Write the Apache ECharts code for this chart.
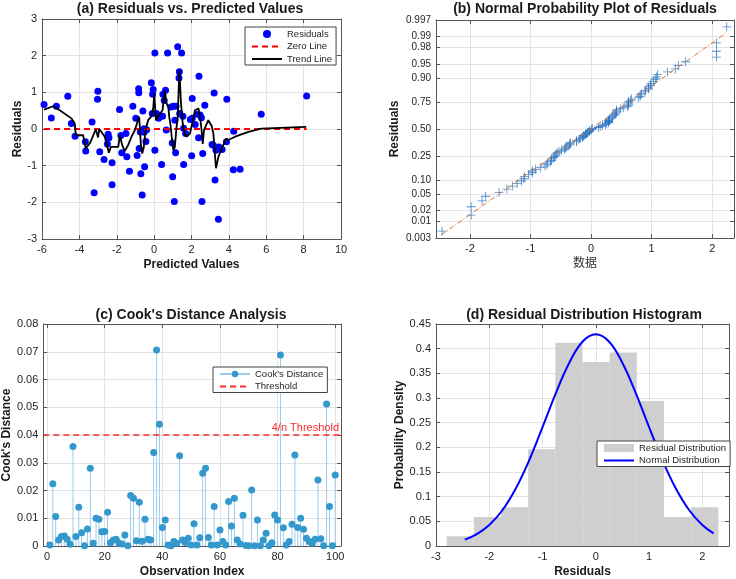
<!DOCTYPE html>
<html>
<head>
<meta charset="utf-8">
<title>Residual diagnostics</title>
<script src="https://cdn.jsdelivr.net/npm/echarts@6/dist/echarts.min.js"></script>
<style>
  html, body { margin: 0; padding: 0; background: #fff; }
  #main { width: 736px; height: 579px; }
</style>
</head>
<body>
<div id="main"></div>
<script>
// ---- (a) residuals vs predicted values
const predicted = [-5.89, -5.50, -5.23, -4.62, -4.43, -4.23, -3.68, -3.66, -3.32, -3.21,
  -3.03, -3.01, -2.91, -2.68, -2.50, -2.46, -2.42, -2.25, -2.25, -1.85,
  -1.78, -1.73, -1.51, -1.46, -1.32, -1.14, -0.98, -0.91, -0.83, -0.82,
  -0.80, -0.74, -0.71, -0.64, -0.60, -0.55, -0.51, -0.44, -0.15, -0.10,
  -0.08, -0.05, 0.04, 0.04, 0.13, 0.40, 0.45, 0.47, 0.54, 0.61,
  0.65, 0.72, 0.90, 0.97, 0.99, 1.08, 1.11, 1.15, 1.17, 1.26,
  1.35, 1.33, 1.37, 1.47, 1.54, 1.58, 1.69, 2.01, 2.04, 2.04,
  2.40, 2.38, 2.46, 2.56, 2.60, 2.71, 3.21, 3.17, 3.26, 3.31,
  3.44, 3.47, 3.64, 3.89, 3.87, 4.26, 4.24, 4.60, 5.73, 8.16,
  1.03, 1.94, 2.33, 2.53, 3.10, 0.24, -0.53, 1.58, -0.40, 2.20]
const residuals = [0.67, 0.30, 0.62, 0.89, 0.15, -0.20, -0.35, -0.60, 0.19, -1.74,
  0.81, 1.03, -0.62, -0.83, -0.41, -0.14, -0.24, -0.92, -1.52, 0.53,
  -0.18, -0.65, -0.12, -0.76, -1.15, 0.62, 0.29, -0.72, 1.10, 0.99,
  -0.53, -0.08, -1.22, -1.80, 0.49, 0.01, -1.03, -0.34, 1.26, 0.42,
  0.95, 1.08, 2.07, -0.58, 0.42, -0.97, 0.35, 0.95, 0.78, 1.06,
  -0.03, 2.07, 0.60, -0.38, -1.30, -1.98, 0.24, -0.65, 0.62, 2.24,
  1.56, 1.39, 0.42, 2.07, 0.35, -0.97, -0.12, -0.73, 0.83, 0.29,
  1.44, -0.24, 0.38, -1.98, -0.67, 0.65, 0.98, -0.44, -1.39, -0.58,
  -2.46, -0.49, -0.56, 0.81, -0.35, -0.06, -1.11, -1.10, 0.40, 0.90,
  0.62, 0.26, 0.40, 0.31, -0.42, 0.29, -0.09, 0.02, -0.02, 0.12]
const trendX = [-5.89, -5.41, -5.05, -4.43, -4.25, -4.19, -3.80, -3.66, -3.44, -3.12,
  -3.00, -2.94, -2.82, -2.64, -2.42, -2.32, -1.92, -1.83, -1.71, -1.57,
  -1.39, -1.21, -1.03, -0.89, -0.80, -0.71, -0.64, -0.55, -0.46, -0.32,
  -0.14, -0.05, 0.01, 0.04, 0.10, 0.26, 0.45, 0.52, 0.58, 0.63,
  0.76, 0.81, 0.88, 0.94, 1.03, 1.11, 1.20, 1.26, 1.35, 1.38,
  1.44, 1.53, 1.62, 1.74, 1.92, 2.19, 2.37, 2.46, 2.54, 2.60,
  2.67, 2.90, 3.08, 3.17, 3.31, 3.44, 3.62, 3.85, 3.97, 4.33,
  5.05, 5.73, 8.14]
const trendY = [0.53, 0.62, 0.51, 0.29, 0.15, -0.17, -0.17, -0.53, -0.39, -0.01,
  -0.23, -0.01, -0.08, -0.21, -0.65, -0.49, -0.49, -0.17, -0.44, -0.60,
  -0.44, -0.21, -0.03, 0.20, 0.33, -0.41, -0.67, -0.49, -0.03, 0.24,
  0.35, 0.56, 0.97, 0.69, 0.24, 0.38, 0.51, 0.83, 1.06, 0.74,
  0.60, 0.33, 0.10, -0.21, -0.58, -0.49, 0.06, 0.29, 1.60, 1.33,
  0.69, 0.15, -0.12, -0.21, -0.12, 0.51, 0.56, 0.33, -0.03, -0.41,
  -0.03, 0.24, 0.08, -0.12, -1.07, -0.76, -0.53, -0.26, -0.30, -0.21,
  -0.08, 0.01, 0.06]
const zeroLineX = [-5.89, 8.16]

// ---- (b) normal probability plot
const probTicks = [0.003, 0.01, 0.02, 0.05, 0.10, 0.25, 0.50, 0.75, 0.90, 0.95, 0.98, 0.99, 0.997]
const probTickLabels = ['0.003', '0.01', '0.02', '0.05', '0.10', '0.25', '0.50', '0.75', '0.90', '0.95', '0.98', '0.99', '0.997']
const refLineX = [-2.47, 2.22]
const refLineP = [0.0038, 0.992]

// ---- (c) cook's distance
const cooksD = [0.0004, 0.0224, 0.0106, 0.0022, 0.0034, 0.0036, 0.0024, 0.0006, 0.0359, 0.0034,
  0.0140, 0.0048, 0.0001, 0.0061, 0.0280, 0.0010, 0.0100, 0.0096, 0.0051, 0.0052,
  0.0122, 0.0012, 0.0022, 0.0024, 0.0010, 0.0007, 0.0040, 0.0001, 0.0182, 0.0172,
  0.0019, 0.0158, 0.0017, 0.0096, 0.0024, 0.0022, 0.0337, 0.0706, 0.0439, 0.0067,
  0.0094, 0.0004, 0.0001, 0.0016, 0.0010, 0.0325, 0.0022, 0.0013, 0.0028, 0.0004,
  0.0080, 0.0004, 0.0030, 0.0262, 0.0280, 0.0031, 0.0004, 0.0142, 0.0004, 0.0058,
  0.0016, 0.0004, 0.0160, 0.0072, 0.0172, 0.0022, 0.0007, 0.0111, 0.0002, 0.0001,
  0.0202, 0.0001, 0.0094, 0.0001, 0.0022, 0.0046, 0.0001, 0.0012, 0.0112, 0.0094,
  0.0688, 0.0066, 0.0004, 0.0016, 0.0078, 0.0328, 0.0067, 0.0100, 0.0060, 0.0028,
  0.0016, 0.0010, 0.0024, 0.0238, 0.0026, 0.0001, 0.0512, 0.0142, 0.0001, 0.0256]
const threshold = 0.04

// ---- (d) histogram + fitted normal
const binEdges = [-2.80, -2.29, -1.78, -1.27, -0.76, -0.25, 0.26, 0.77, 1.28, 1.79, 2.30]
const binDensity = [0.0196, 0.0588, 0.0784, 0.196, 0.412, 0.373, 0.392, 0.294, 0.0588, 0.0784]
const pdfX = [-2.46, -2.25, -2.0, -1.75, -1.5, -1.25, -1.0, -0.75, -0.5, -0.25, 0,
  0.25, 0.5, 0.75, 1.0, 1.25, 1.5, 1.75, 2.0, 2.21]
const pdfY = [0.013, 0.023, 0.0425, 0.073, 0.117, 0.174, 0.241, 0.310, 0.371, 0.414, 0.429,
  0.414, 0.371, 0.310, 0.241, 0.174, 0.117, 0.073, 0.0425, 0.0255]

// inverse normal cdf (Acklam), used as the probability axis scale
function norminv(p) {
  const a = [-39.69683028665376, 220.9460984245205, -275.9285104469687, 138.3577518672690, -30.66479806614716, 2.506628277459239]
  const b = [-54.47609879822406, 161.5858368580409, -155.6989798598866, 66.80131188771972, -13.28068155288572]
  const c = [-0.007784894002430293, -0.3223964580411365, -2.400758277161838, -2.549732539343734, 4.374664141464968, 2.938163982698783]
  const d = [0.007784695709041462, 0.3224671290700398, 2.445134137142996, 3.754408661907416]
  const plow = 0.02425
  let q, r
  if (p < plow) {
    q = Math.sqrt(-2 * Math.log(p))
    return (((((c[0] * q + c[1]) * q + c[2]) * q + c[3]) * q + c[4]) * q + c[5]) / ((((d[0] * q + d[1]) * q + d[2]) * q + d[3]) * q + 1)
  }
  if (p > 1 - plow) {
    q = Math.sqrt(-2 * Math.log(1 - p))
    return -(((((c[0] * q + c[1]) * q + c[2]) * q + c[3]) * q + c[4]) * q + c[5]) / ((((d[0] * q + d[1]) * q + d[2]) * q + d[3]) * q + 1)
  }
  q = p - 0.5
  r = q * q
  return (((((a[0] * r + a[1]) * r + a[2]) * r + a[3]) * r + a[4]) * r + a[5]) * q / (((((b[0] * r + b[1]) * r + b[2]) * r + b[3]) * r + b[4]) * r + 1)
}

const FONT = '"Liberation Sans", Arial, sans-serif'
const AXC = '#555'
const GRIDC = '#e3e3e3'
const TXT = '#262626'

// main axis + mirrored axis (box with ticks on every side, like matlab)
function axisPair(dim, gi, o) {
  const pos = dim === 'x' ? ['bottom', 'top'] : ['left', 'right']
  const main = {
    type: 'value', gridIndex: gi, position: pos[0], min: o.min, max: o.max,
    axisLine: { show: true, onZero: false, lineStyle: { color: AXC, width: 1 } },
    axisTick: { show: true, inside: true, length: 4, lineStyle: { color: AXC } },
    axisLabel: { color: TXT, fontSize: o.labelSize || 11, fontFamily: FONT, margin: 5 },
    splitLine: { show: true, lineStyle: { color: GRIDC, width: 1 } },
    name: o.name, nameLocation: 'middle', nameGap: o.gap,
    nameTextStyle: Object.assign({ fontFamily: FONT, fontSize: 12, fontWeight: 'bold', color: '#1a1a1a' }, o.nameStyle || {})
  }
  const mirror = {
    type: 'value', gridIndex: gi, position: pos[1], min: o.min, max: o.max,
    axisLine: { show: true, onZero: false, lineStyle: { color: AXC, width: 1 } },
    axisTick: { show: true, inside: true, length: 4, lineStyle: { color: AXC } },
    axisLabel: { show: false },
    splitLine: { show: false }
  }
  if (o.interval) { main.interval = o.interval; mirror.interval = o.interval }
  if (o.ticks) {
    main.axisTick.customValues = o.ticks
    main.axisLabel.customValues = o.ticks
    mirror.axisTick.customValues = o.ticks
  }
  if (o.fmt) main.axisLabel.formatter = o.fmt
  return [main, mirror]
}

const probZ = probTicks.map(norminv)
const probFmt = v => {
  let best = 0
  probZ.forEach((z, i) => { if (Math.abs(z - v) < Math.abs(probZ[best] - v)) best = i })
  return probTickLabels[best]
}

const xAxes = [].concat(
  axisPair('x', 0, { min: -6, max: 10, interval: 2, name: 'Predicted Values', gap: 20 }),
  axisPair('x', 1, { min: -2.56, max: 2.36, ticks: [-2, -1, 0, 1, 2], name: '数据', gap: 18,
    nameStyle: { fontFamily: '"Noto Sans CJK SC", sans-serif', fontWeight: 'normal', color: '#333' } }),
  axisPair('x', 2, { min: -1.3, max: 102, ticks: [0, 20, 40, 60, 80, 100], name: 'Observation Index', gap: 20 }),
  axisPair('x', 3, { min: -3, max: 2.5, ticks: [-3, -2, -1, 0, 1, 2], name: 'Residuals', gap: 20 })
)
const yAxes = [].concat(
  axisPair('y', 0, { min: -3, max: 3, interval: 1, name: 'Residuals', gap: 18 }),
  axisPair('y', 1, { min: probZ[0], max: probZ[probZ.length - 1], ticks: probZ, fmt: probFmt, labelSize: 10, name: 'Residuals', gap: 35 }),
  axisPair('y', 2, { min: 0, max: 0.08, interval: 0.01, name: "Cook's Distance", gap: 28 }),
  axisPair('y', 3, { min: 0, max: 0.45, interval: 0.05, name: 'Probability Density', gap: 28 })
)

// sorted residuals against their plotting positions
const sortedRes = residuals.slice().sort((p, q) => p - q)
const probPoints = sortedRes.map((r, i) => [r, norminv((i + 0.5) / sortedRes.length)])

const stemData = []
cooksD.forEach((v, i) => {
  const k = i + 1
  stemData.push({ value: [k, 0], symbol: 'none' }, { value: [k, v] }, [k, '-'])
})

const hist = binDensity.map((h, i) => [binEdges[i], binEdges[i + 1], h])

const legendBase = {
  orient: 'vertical', backgroundColor: '#fff', borderColor: '#444', borderWidth: 1,
  itemWidth: 30, itemHeight: 8, itemGap: 2.5, padding: [2, 4, 1, 6],
  textStyle: { fontSize: 9.5, fontFamily: FONT, color: TXT }, selectedMode: false
}
// line-only legend entries: hide the marker echarts puts in the middle
const noMark = { color: 'rgba(0,0,0,0)', borderWidth: 0 }

const titleStyle = { fontSize: 14, fontWeight: 'bold', fontFamily: FONT, fill: '#1a1a1a', align: 'center', verticalAlign: 'middle' }
const titles = [
  ['(a) Residuals vs. Predicted Values', 190, 9],
  ['(b) Normal Probability Plot of Residuals', 585, 9],
  ["(c) Cook's Distance Analysis", 191, 315],
  ['(d) Residual Distribution Histogram', 584, 315]
]

const option = {
  animation: false,
  backgroundColor: '#fff',
  graphic: titles.map(t => ({ type: 'text', x: t[1], y: t[2], style: Object.assign({ text: t[0] }, titleStyle) })),
  grid: [
    { left: 42, top: 19, width: 299, height: 220 },
    { left: 436, top: 20, width: 298, height: 218 },
    { left: 42, top: 324, width: 299, height: 222 },
    { left: 436, top: 324, width: 293, height: 222 }
  ],
  xAxis: xAxes,
  yAxis: yAxes,
  legend: [
    Object.assign({}, legendBase, { left: 245, top: 27,
      data: ['Residuals', { name: 'Zero Line', itemStyle: noMark }, { name: 'Trend Line', itemStyle: noMark }] }),
    Object.assign({}, legendBase, { left: 213, top: 367,
      data: ["Cook's Distance", { name: 'Threshold', itemStyle: noMark }] }),
    Object.assign({}, legendBase, { left: 597, top: 441,
      data: [{ name: 'Residual Distribution', icon: 'rect' }, { name: 'Normal Distribution', itemStyle: noMark }] })
  ],
  series: [
    {
      name: 'Residuals', type: 'scatter', xAxisIndex: 0, yAxisIndex: 0,
      data: predicted.map((x, i) => [x, residuals[i]]),
      symbolSize: 7, itemStyle: { color: '#0000ff', opacity: 1 }
    },
    {
      name: 'Zero Line', type: 'line', xAxisIndex: 0, yAxisIndex: 0, symbol: 'none',
      data: zeroLineX.map(x => [x, 0]),
      itemStyle: { color: '#ff0000' },
      lineStyle: { color: '#ff0000', width: 2, type: [6, 4] }
    },
    {
      name: 'Trend Line', type: 'line', xAxisIndex: 0, yAxisIndex: 0, symbol: 'none',
      data: trendX.map((x, i) => [x, trendY[i]]),
      itemStyle: { color: '#000' },
      lineStyle: { color: '#000', width: 1.8 }
    },
    {
      name: 'probPoints', type: 'scatter', xAxisIndex: 2, yAxisIndex: 2,
      symbol: 'path://M-0.09,-1H0.09V-0.09H1V0.09H0.09V1H-0.09V0.09H-1V-0.09H-0.09Z',
      symbolSize: 9, data: probPoints,
      itemStyle: { color: '#1f6fc2', opacity: 0.8 }
    },
    {
      name: 'refLine', type: 'line', xAxisIndex: 2, yAxisIndex: 2, symbol: 'none',
      data: refLineX.map((x, i) => [x, norminv(refLineP[i])]),
      lineStyle: { color: '#e0712f', width: 1, type: [5, 2, 1, 2] }
    },
    {
      name: "Cook's Distance", type: 'line', xAxisIndex: 4, yAxisIndex: 4,
      data: stemData, connectNulls: false,
      symbol: 'circle', symbolSize: 7,
      itemStyle: { color: '#3399cc' },
      lineStyle: { color: '#9ccbea', width: 1 }
    },
    {
      name: 'Threshold', type: 'line', xAxisIndex: 4, yAxisIndex: 4, symbol: 'none',
      data: [],
      itemStyle: { color: '#ff2a2a' },
      lineStyle: { color: '#ff2a2a', width: 1.5, type: [6, 4] },
      markLine: {
        silent: true, symbol: ['none', 'none'],
        data: [{ yAxis: threshold }],
        lineStyle: { color: '#ff2a2a', width: 1.5, type: [6, 4] },
        label: { show: true, position: 'insideEndTop', formatter: '4/n Threshold', color: '#ff2a2a', fontSize: 11, fontFamily: FONT, distance: 2 }
      }
    },
    {
      name: 'Residual Distribution', type: 'custom', xAxisIndex: 6, yAxisIndex: 6,
      data: hist, encode: { x: [0, 1], y: 2 },
      itemStyle: { color: '#cfcfcf' },
      renderItem: (params, api) => {
        const lt = api.coord([api.value(0), api.value(2)])
        const rb = api.coord([api.value(1), 0])
        return {
          type: 'rect',
          shape: { x: lt[0], y: lt[1], width: rb[0] - lt[0], height: rb[1] - lt[1] },
          style: { fill: '#cfcfcf' }
        }
      }
    },
    {
      name: 'Normal Distribution', type: 'line', xAxisIndex: 6, yAxisIndex: 6, symbol: 'none',
      data: pdfX.map((x, i) => [x, pdfY[i]]), smooth: 0.4,
      itemStyle: { color: '#0000ff' },
      lineStyle: { color: '#0000ff', width: 2 }
    }
  ]
}

const chart = echarts.init(document.getElementById('main'))
chart.setOption(option)
</script>
</body>
</html>
